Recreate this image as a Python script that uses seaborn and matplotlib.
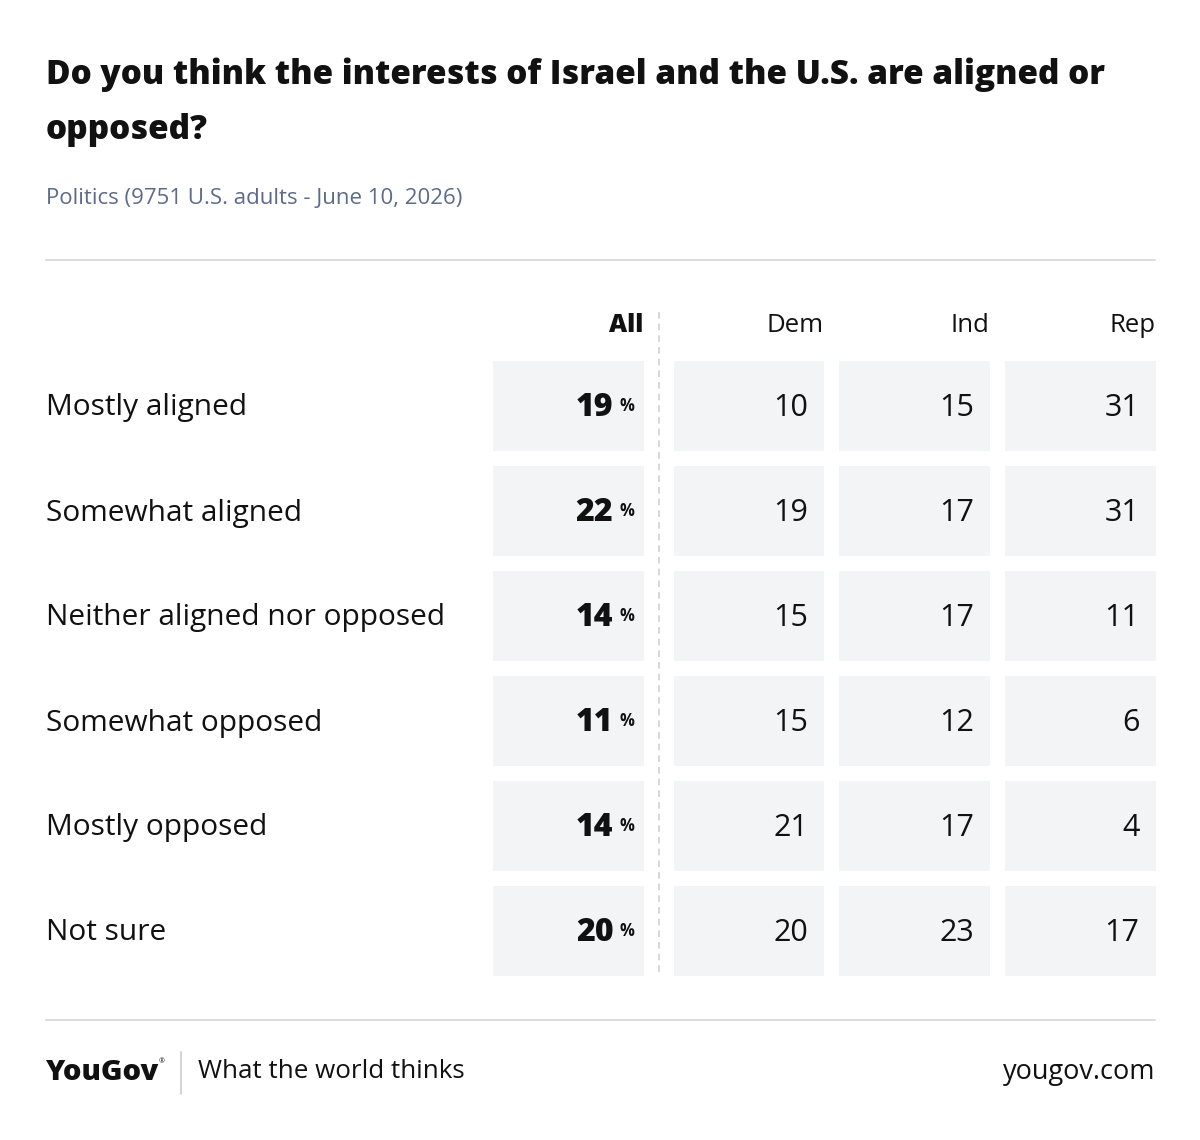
import matplotlib
matplotlib.use("Agg")
import matplotlib.pyplot as plt
import matplotlib.transforms as mtransforms
from matplotlib.colors import ListedColormap
import seaborn as sns
import numpy as np

TITLE = "Do you think the interests of Israel and the U.S. are aligned or\nopposed?"
SUBTITLE = "Politics (9751 U.S. adults - June 10, 2026)"

answers = [
    "Mostly aligned",
    "Somewhat aligned",
    "Neither aligned nor opposed",
    "Somewhat opposed",
    "Mostly opposed",
    "Not sure",
]
all_adults = [19, 22, 14, 11, 14, 20]
groups = ["Dem", "Ind", "Rep"]
dem = [10, 19, 15, 15, 21, 20]
ind = [15, 17, 17, 12, 17, 23]
rep = [31, 31, 11, 6, 4, 17]

W, H = 1200, 1140
CELL = "#f3f4f6"
TEXT = "#111111"
FONT = "Open Sans"

sns.set_theme(style="white")
plt.rcParams["font.family"] = [FONT, "DejaVu Sans"]

fig = plt.figure(figsize=(W / 100, H / 100), dpi=100)
fig.patch.set_facecolor("white")


def px_axes(x0, y0, x1, y1):
    # axes placed by pixel box (top-left origin)
    return fig.add_axes([x0 / W, 1 - y1 / H, (x1 - x0) / W, (y1 - y0) / H])


gap = 15
lw = gap * 72 / 100
ax_all = px_axes(492 - gap / 2, 360 - gap / 2, 643 + gap / 2, 975 + gap / 2)
ax_grp = px_axes(673 - gap / 2, 360 - gap / 2, 1155 + gap / 2, 975 + gap / 2)

cmap = ListedColormap([CELL])
sns.heatmap(np.array(all_adults).reshape(-1, 1), ax=ax_all, cmap=cmap, cbar=False,
            linewidths=lw, linecolor="white", xticklabels=False, yticklabels=False)
grp_vals = np.column_stack([dem, ind, rep])
sns.heatmap(grp_vals, ax=ax_grp, cmap=cmap, cbar=False,
            linewidths=lw, linecolor="white", xticklabels=False, yticklabels=False)
for ax in (ax_all, ax_grp):
    ax.set_axis_off()

# cell values
for i, v in enumerate(all_adults):
    ax_all.annotate(str(v), (1, i + 0.5), xytext=(-37, -3), textcoords="offset pixels",
                    ha="right", va="center", fontsize=23, fontweight="heavy", color=TEXT)
    ax_all.annotate("%", (1, i + 0.5), xytext=(-16, -1), textcoords="offset pixels",
                    ha="right", va="center", fontsize=12, fontweight="bold", color=TEXT)
for i in range(len(answers)):
    for j in range(len(groups)):
        ax_grp.annotate(str(grp_vals[i, j]), (j + 1, i + 0.5), xytext=(-23, -3),
                        textcoords="offset pixels", ha="right", va="center",
                        fontsize=22, color=TEXT)

# column headers
ax_all.annotate("All", (1, 0), xytext=(-7.5, 27), textcoords="offset pixels",
                ha="right", va="center", fontsize=18, fontweight="heavy", color=TEXT)
for j, g in enumerate(groups):
    ax_grp.annotate(g, (j + 1, 0), xytext=(-7.5, 27), textcoords="offset pixels",
                    ha="right", va="center", fontsize=18.5, color=TEXT)

# row labels
row_tr = mtransforms.blended_transform_factory(fig.transFigure, ax_all.transData)
for i, a in enumerate(answers):
    ax_all.annotate(a, (46 / W, i + 0.5), xycoords=row_tr, xytext=(0, -3),
                    textcoords="offset pixels", ha="left", va="center",
                    fontsize=21.5, color=TEXT, annotation_clip=False)

# dashed divider between All and groups
fig.add_artist(plt.Line2D([659 / W, 659 / W], [1 - 312 / H, 1 - 975 / H],
                          color="#cfd2d6", lw=1.2, ls=(0, (4, 3))))

# title, subtitle, rules
fig.text(46 / W, 1 - 58 / H, TITLE, ha="left", va="top", fontsize=24,
         fontweight="heavy", color=TEXT, linespacing=1.8)
fig.text(46 / W, 1 - 198 / H, SUBTITLE, ha="left", va="center", fontsize=16,
         color="#5d6b8a")
for y in (260, 1020):
    fig.add_artist(plt.Line2D([46 / W, 1155 / W], [1 - y / H, 1 - y / H],
                              color="#dcdcdc", lw=1.5))

# footer
fig.text(46 / W, 1 - 1072 / H, "YouGov", ha="left", va="center", fontsize=21,
         fontweight="heavy", color=TEXT)
fig.text(159 / W, 1 - 1062 / H, "®", ha="left", va="center", fontsize=5, color=TEXT)
fig.add_artist(plt.Line2D([181 / W, 181 / W], [1 - 1052 / H, 1 - 1094 / H],
                          color="#cccccc", lw=1.2))
fig.text(198 / W, 1 - 1072 / H, "What the world thinks", ha="left", va="center",
         fontsize=18.7, color=TEXT)
fig.text(1155 / W, 1 - 1072 / H, "yougov.com", ha="right", va="center",
         fontsize=19.5, color=TEXT)

fig.savefig("out.png", dpi=100, facecolor="white")
